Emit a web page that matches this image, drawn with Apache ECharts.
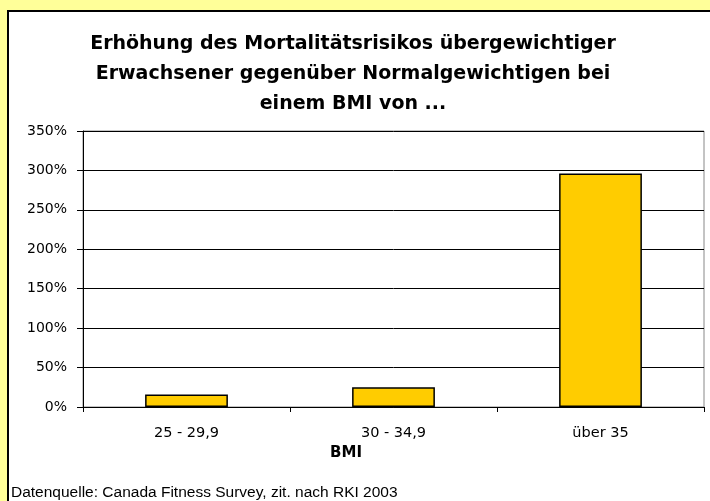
<!DOCTYPE html>
<html>
<head>
    <meta charset="UTF-8">
    <title>BMI Mortalitaet</title>
    <script src="https://cdn.jsdelivr.net/npm/echarts@6/dist/echarts.min.js"></script>
    <style>
        body { margin: 0; background: #ffff99; }
        #box {
            position: absolute; left: 7px; top: 10px;
            width: 720px; height: 520px;
            background: #fff; border: 2px solid #000;
        }
        #main { position: absolute; left: 0; top: 0; width: 710px; height: 501px; }
    </style>
</head>
<body>
<div id="box"></div>
<div id="main"></div>

<script type="text/javascript">
    // Kategorien und Werte (in Prozent)
    var categories = ['25 - 29,9', '30 - 34,9', 'über 35'];
    var risk = [16, 25, 296];
    var yTicks = [0, 50, 100, 150, 200, 250, 300, 350];

    var titleText = 'Erhöhung des Mortalitätsrisikos übergewichtiger\nErwachsener gegenüber Normalgewichtigen bei\neinem BMI von ...';
    var sourceText = 'Datenquelle: Canada Fitness Survey, zit. nach RKI 2003';

    var wide = '"DejaVu Sans", Arial, sans-serif';
    var arial = 'Arial, "Liberation Sans", sans-serif';

    var myChart = echarts.init(document.getElementById('main'));

    var option = {
        backgroundColor: 'transparent',
        animation: false,
        textStyle: { fontFamily: wide },
        title: [
            {
                text: titleText,
                left: 348,
                top: 24,
                textAlign: 'center',
                textStyle: {
                    fontSize: 19,
                    fontWeight: 'bold',
                    lineHeight: 30,
                    color: '#000',
                    fontFamily: wide
                }
            },
            {
                text: 'BMI',
                left: 341,
                top: 441,
                textAlign: 'center',
                textStyle: { fontSize: 15, fontWeight: 'bold', color: '#000', fontFamily: wide }
            },
            {
                text: sourceText,
                left: 6,
                top: 480,
                textStyle: { fontSize: 15.5, fontWeight: 'normal', color: '#000', fontFamily: arial }
            }
        ],
        grid: {
            left: 83,
            right: 6,
            top: 131,
            bottom: 94,
            show: true,
            borderColor: '#888',
            borderWidth: 1,
            backgroundColor: '#fff'
        },
        xAxis: {
            type: 'category',
            data: categories,
            axisLine: { lineStyle: { color: '#000', width: 1 } },
            axisTick: { show: true, length: 5, lineStyle: { color: '#000' } },
            axisLabel: { color: '#000', fontSize: 14.5, margin: 19, fontFamily: wide }
        },
        yAxis: {
            type: 'value',
            min: 0,
            max: 350,
            interval: 50,
            axisLine: { show: true, lineStyle: { color: '#000', width: 1 } },
            axisTick: { show: true, length: 6, lineStyle: { color: '#000' } },
            axisLabel: {
                color: '#000',
                fontSize: 14,
                margin: 16,
                fontFamily: wide,
                formatter: function (v) {
                    return yTicks.indexOf(v) >= 0 ? v + '%' : '';
                }
            },
            splitLine: { show: true, lineStyle: { color: '#000', width: 1 } }
        },
        series: [
            {
                name: 'Risiko',
                type: 'bar',
                data: risk,
                barWidth: '40%',
                itemStyle: {
                    color: '#ffcc00',
                    borderColor: '#000',
                    borderWidth: 1.5
                }
            }
        ]
    };
    myChart.setOption(option);
</script>
</body>
</html>
